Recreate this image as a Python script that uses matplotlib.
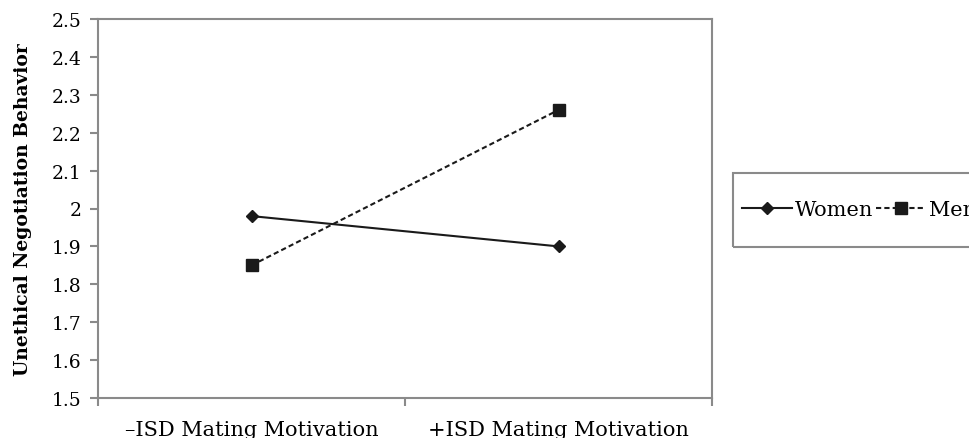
import matplotlib.pyplot as plt
from matplotlib.patches import Rectangle

# data
conditions = ["\u2013ISD Mating Motivation", "+ISD Mating Motivation"]
women = [1.98, 1.90]
men = [1.85, 2.26]
yticks = [1.5, 1.6, 1.7, 1.8, 1.9, 2.0, 2.1, 2.2, 2.3, 2.4, 2.5]
ytick_labels = ["1.5", "1.6", "1.7", "1.8", "1.9", "2", "2.1", "2.2", "2.3", "2.4", "2.5"]

plt.rcParams["font.family"] = "DejaVu Serif"
grey = "#8a8a8a"

fig = plt.figure(figsize=(9.69, 4.39), dpi=100)
ax = fig.add_axes([98 / 969, 1 - 399 / 439, (712 - 98) / 969, (399 - 20) / 439])

x = list(range(len(conditions)))
ax.plot(x, women, color="#1a1a1a", lw=1.5, marker="D", ms=6, label="Women")
ax.plot(x, men, color="#1a1a1a", lw=1.5, ls=(0, (2.5, 1.5)), marker="s", ms=8, label="Men")

ax.set_xlim(-0.5, 1.5)
ax.set_ylim(1.5, 2.5)
ax.set_yticks(yticks)
ax.set_yticklabels(ytick_labels, fontsize=13.5)
ax.set_xticks(x)
ax.set_xticklabels(conditions, fontsize=15)
ax.set_xticks([-0.5, 0.5, 1.5], minor=True)
ax.tick_params(axis="x", which="major", length=0, pad=16)
ax.tick_params(axis="x", which="minor", length=6, color=grey, width=1.5, direction="out")
ax.tick_params(axis="y", length=6, color=grey, width=1.5, direction="out", pad=6)

for s in ax.spines.values():
    s.set_color(grey)
    s.set_linewidth(1.5)

ax.set_ylabel("Unethical Negotiation Behavior", fontsize=13.5, fontweight="bold", labelpad=14)

# legend box (runs off the right edge like the reference)
fig.patches.append(Rectangle((733 / 969, 1 - 248 / 439), 300 / 969, 74 / 439,
                             transform=fig.transFigure, fill=False,
                             edgecolor=grey, linewidth=1.5))
fig.legend(loc="center left", bbox_to_anchor=(740 / 969, 1 - 211 / 439), ncol=2,
           fontsize=15, frameon=False, borderpad=0.1, borderaxespad=0,
           handlelength=2.4, handletextpad=0.15, columnspacing=0.1)

plt.savefig("out.png", dpi=100)
